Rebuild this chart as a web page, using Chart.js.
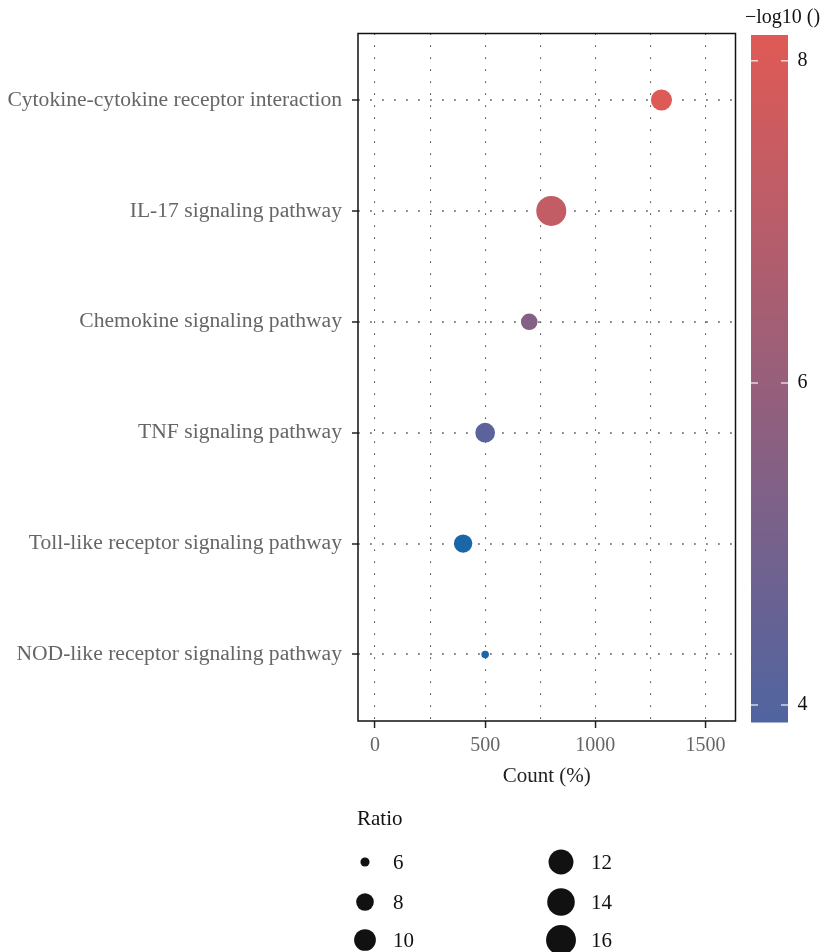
<!DOCTYPE html>
<html>
<head>
<meta charset="utf-8">
<script src="https://cdn.jsdelivr.net/npm/chart.js@4.4.1/dist/chart.umd.min.js"></script>
<style>
  html, body { margin: 0; padding: 0; background: #fff; }
  #wrap { width: 824px; height: 952px; }
</style>
</head>
<body>
<div id="wrap"><canvas id="chart"></canvas></div>
<script>
// data
const pathways = [
  'Cytokine-cytokine receptor interaction',
  'IL-17 signaling pathway',
  'Chemokine signaling pathway',
  'TNF signaling pathway',
  'Toll-like receptor signaling pathway',
  'NOD-like receptor signaling pathway'
]
const counts = [1300, 800, 700, 500, 400, 500]
const ratios = [9.6, 16.1, 7.6, 8.9, 8.3, 5.95]
const logP = [8.1, 7.27, 5.44, 4.22, 3.4, 3.2]   // -log10(p)
const countTicks = [0, 250, 500, 750, 1000, 1250, 1500]
const colorTicks = [4, 6, 8]
const ratioLegend = [6, 8, 10, 12, 14, 16]

const SERIF = "'Liberation Serif', 'DejaVu Serif', serif"
const cbMin = 3.9, cbMax = 8.17
const lowCol = [0x50, 0x64, 0xA0], highCol = [0xE0, 0x5A, 0x55]

function colorFor(v) {
  if (v < cbMin) return '#1A66A8'   // below scale limits
  const t = Math.min(1, (v - cbMin) / (cbMax - cbMin))
  const c = lowCol.map((l, i) => Math.round(l + t * (highCol[i] - l)))
  return `rgb(${c[0]},${c[1]},${c[2]})`
}

const rMin = Math.min(...ratios), rMax = Math.max(...ratios)
function radiusFor(r) {
  const t = Math.max(0, (r - rMin) / (rMax - rMin))
  return 3.8 + 11.2 * Math.sqrt(t)
}

// keep vertical axes from pushing the plot area around
const noPad = s => { s.paddingTop = 0; s.paddingBottom = 0 }

const extras = {
  id: 'extras',
  afterDraw(chart) {
    const ctx = chart.ctx
    const a = chart.chartArea
    ctx.save()
    // panel frame
    ctx.strokeStyle = '#111'
    ctx.lineWidth = 1.5
    ctx.strokeRect(a.left, a.top, a.right - a.left, a.bottom - a.top)

    // colour bar
    const cb = chart.scales.cb
    const x0 = cb.left + 15.5, w = 37
    const yTop = cb.getPixelForValue(cbMax), yBot = cb.getPixelForValue(cbMin)
    const g = ctx.createLinearGradient(0, yBot, 0, yTop)
    g.addColorStop(0, colorFor(cbMin))
    g.addColorStop(1, colorFor(cbMax))
    ctx.fillStyle = g
    ctx.fillRect(x0, yTop + 1.5, w, yBot - yTop)
    ctx.strokeStyle = 'rgba(255,255,255,0.75)'
    ctx.lineWidth = 1.5
    colorTicks.forEach(v => {
      const y = cb.getPixelForValue(v)
      ctx.beginPath()
      ctx.moveTo(x0, y); ctx.lineTo(x0 + 7, y)
      ctx.moveTo(x0 + w - 7, y); ctx.lineTo(x0 + w, y)
      ctx.stroke()
    })
    ctx.fillStyle = '#111'
    ctx.font = `20px ${SERIF}`
    ctx.textAlign = 'left'
    ctx.textBaseline = 'middle'
    ctx.fillText('\u2212log10 ()', 745, 18)

    // size legend
    ctx.font = `21px ${SERIF}`
    ctx.fillText('Ratio', 357, 819)
    const cols = [[365, 393], [561, 591]]
    const rows = [862, 902, 940]
    ratioLegend.forEach((r, i) => {
      const col = cols[Math.floor(i / 3)], y = rows[i % 3]
      ctx.fillStyle = '#111'
      ctx.beginPath()
      ctx.arc(col[0], y, radiusFor(r), 0, Math.PI * 2)
      ctx.fill()
      ctx.fillText(String(r), col[1], y + 1)
    })
    ctx.restore()
  }
}

new Chart(document.getElementById('chart'), {
  type: 'scatter',
  data: {
    datasets: [{
      data: counts.map((c, i) => ({ x: c, y: i })),
      pointRadius: ratios.map(radiusFor),
      pointHoverRadius: ratios.map(radiusFor),
      pointBackgroundColor: logP.map(colorFor),
      pointBorderWidth: 0
    }]
  },
  options: {
    responsive: true,
    maintainAspectRatio: false,
    animation: false,
    events: [],
    layout: { padding: { top: 33.5, left: 0, right: 0, bottom: 151 } },
    plugins: { legend: { display: false }, tooltip: { enabled: false } },
    scales: {
      x: {
        type: 'linear',
        position: 'bottom',
        min: -77,
        max: 1636,
        afterBuildTicks: s => { s.ticks = countTicks.map(v => ({ value: v })) },
        afterFit: s => { s.height = 80 },
        grid: {
          color: '#222',
          lineWidth: 1.1,
          tickLength: 7,
          tickWidth: 1.5,
          tickColor: c => (c.tick && c.tick.value % 500 === 0) ? '#222' : 'rgba(0,0,0,0)'
        },
        border: { display: false, dash: [1.2, 10.8] },
        ticks: {
          autoSkip: false,
          maxRotation: 0,
          padding: 6,
          color: '#666',
          font: { family: SERIF, size: 20 },
          callback: v => v % 500 === 0 ? v : ''
        },
        title: {
          display: true,
          text: 'Count (%)',
          color: '#222',
          font: { family: SERIF, size: 21 },
          padding: { top: 2, bottom: 12 }
        }
      },
      y: {
        type: 'linear',
        reverse: true,
        min: -0.6,
        max: 5.6,
        afterBuildTicks: s => { s.ticks = pathways.map((_, i) => ({ value: i })) },
        afterFit: s => { s.width = 358; noPad(s) },
        grid: {
          color: '#888',
          lineWidth: 2,
          tickLength: 6,
          tickWidth: 1.5,
          tickColor: '#222'
        },
        border: { display: false, dash: [1.8, 10.2] },
        ticks: {
          autoSkip: false,
          padding: 10,
          color: '#666',
          font: { family: SERIF, size: 21.6 },
          callback: v => pathways[v]
        }
      },
      cb: {
        type: 'linear',
        position: 'right',
        min: cbMin,
        max: cbMax,
        afterBuildTicks: s => { s.ticks = colorTicks.map(v => ({ value: v })) },
        afterFit: s => { s.width = 88.5; noPad(s) },
        grid: { display: true, drawOnChartArea: false, tickLength: 52, tickColor: 'rgba(0,0,0,0)' },
        border: { display: false },
        ticks: {
          padding: 10,
          color: '#111',
          font: { family: SERIF, size: 20 }
        }
      }
    }
  },
  plugins: [extras]
})
</script>
</body>
</html>
